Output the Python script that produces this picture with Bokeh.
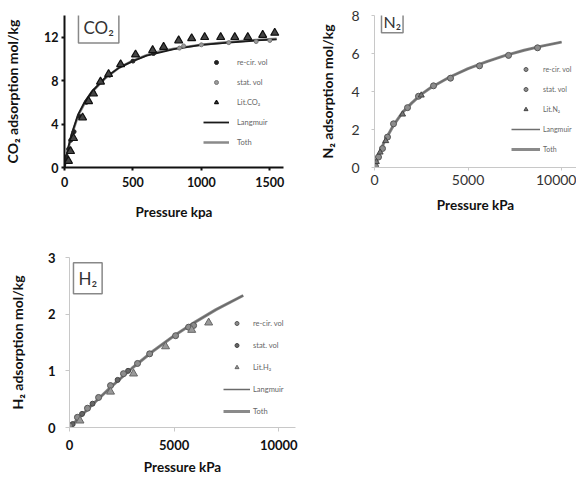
from bokeh.plotting import figure
from bokeh.models import Legend, LegendItem, Label, FixedTicker, Range1d
from bokeh.layouts import column, row
from bokeh.embed import file_html
from bokeh.resources import INLINE

FONT = "Lato"

# ---------------- CO2 data ----------------
co2_fit_p = [0, 25, 50, 100, 150, 200, 300, 400, 500, 600, 700, 800, 1000, 1200, 1400, 1550]
co2_langmuir = [0, 1.7, 3.0, 4.9, 6.1, 7.0, 8.3, 9.2, 9.8, 10.3, 10.6, 10.9, 11.3, 11.5, 11.7, 11.8]
co2_toth = [0, 1.6, 2.9, 4.8, 6.0, 6.95, 8.25, 9.2, 9.85, 10.35, 10.7, 10.95, 11.3, 11.55, 11.75, 11.85]
co2_recir_p = [15, 30, 45, 70, 110, 160, 210, 270, 330, 500, 650]
co2_recir_q = [1.0, 1.7, 2.5, 3.3, 4.7, 6.0, 6.9, 7.9, 8.5, 9.8, 10.5]
co2_stat_p = [840, 870, 1000, 1200, 1400, 1500]
co2_stat_q = [11.0, 11.2, 11.3, 11.5, 11.6, 11.7]
co2_lit_p = [29, 44, 66, 132, 176, 212, 263, 322, 410, 519, 644, 724, 834, 929, 1024, 1141, 1244, 1339, 1448, 1536]
co2_lit_q = [0.6, 1.5, 2.7, 4.6, 6.1, 6.8, 7.9, 8.6, 9.5, 10.4, 10.8, 11.1, 11.7, 11.9, 12.0, 12.0, 12.0, 12.0, 12.2, 12.4]

# ---------------- N2 data ----------------
n2_fit_p = [0, 250, 500, 1000, 1500, 2000, 2500, 3000, 4000, 5000, 6000, 7000, 8000, 9000, 10000]
n2_langmuir = [0, 0.7, 1.3, 2.2, 2.9, 3.4, 3.85, 4.2, 4.75, 5.2, 5.57, 5.9, 6.17, 6.4, 6.6]
n2_toth = [0, 0.7, 1.3, 2.2, 2.9, 3.4, 3.85, 4.2, 4.75, 5.2, 5.57, 5.9, 6.17, 6.4, 6.6]
n2_recir_p = [4064, 5615, 7166, 8717]
n2_recir_q = [4.7, 5.35, 5.9, 6.3]
n2_stat_p = [53, 214, 428, 695, 1016, 1765, 2353, 3155]
n2_stat_q = [0.05, 0.55, 1.0, 1.6, 2.3, 3.15, 3.75, 4.3]
n2_lit_p = [100, 300, 600, 1500, 2500]
n2_lit_q = [0.3, 0.8, 1.4, 2.8, 3.8]

# ---------------- H2 data ----------------
h2_fit_p = [0, 1000, 2000, 3000, 4000, 5000, 6000, 7000, 8300]
h2_langmuir = [0, 0.37, 0.72, 1.05, 1.35, 1.62, 1.86, 2.08, 2.33]
h2_toth = [0, 0.37, 0.72, 1.05, 1.35, 1.62, 1.86, 2.08, 2.33]
h2_recir_p = [0, 380, 860, 1390, 1960, 2580, 3250, 3830, 5070, 5690, 5930]
h2_recir_q = [0.03, 0.18, 0.34, 0.53, 0.74, 0.95, 1.13, 1.3, 1.62, 1.77, 1.8]
h2_stat_p = [150, 600, 1100, 2300, 2800]
h2_stat_q = [0.06, 0.24, 0.42, 0.84, 1.0]
h2_lit_p = [500, 1960, 3060, 4590, 5840, 6650]
h2_lit_q = [0.12, 0.63, 0.95, 1.43, 1.72, 1.85]


def make_fig(width, height, xr, yr, bl, bt, br, bb):
    p = figure(width=width, height=height, x_range=Range1d(*xr), y_range=Range1d(*yr),
               output_backend="svg", toolbar_location=None,
               min_border_left=bl, min_border_top=bt, min_border_right=br, min_border_bottom=bb)
    p.xgrid.visible = False
    p.ygrid.visible = False
    p.outline_line_color = None
    p.background_fill_color = "white"
    for ax in (p.xaxis[0], p.yaxis[0]):
        ax.minor_tick_line_color = None
        ax.major_label_text_font = FONT
        ax.axis_label_text_font = FONT
        ax.axis_label_text_font_style = "bold"
        ax.major_tick_in = 0
    return p


def style_axes(p, color, width, label_color, label_bold, label_size, tick_out,
               xstand, ystand, xlabstand, ylabstand, xtitle_size, ytitle_size):
    for ax in (p.xaxis[0], p.yaxis[0]):
        ax.axis_line_color = color
        ax.axis_line_width = width
        ax.major_tick_line_color = color
        ax.major_tick_line_width = width
        ax.major_tick_out = tick_out
        ax.major_label_text_color = label_color
        ax.major_label_text_font_style = "bold" if label_bold else "normal"
        ax.major_label_text_font_size = label_size
        ax.axis_label_text_color = "#111111"
    p.xaxis[0].axis_label_text_font_size = xtitle_size
    p.yaxis[0].axis_label_text_font_size = ytitle_size
    p.xaxis[0].major_label_standoff = xstand
    p.yaxis[0].major_label_standoff = ystand
    p.xaxis[0].axis_label_standoff = xlabstand
    p.yaxis[0].axis_label_standoff = ylabstand


def add_legend(p, items, x, y, glyph_w, standoff, spacing, size):
    leg = Legend(items=items, location=(x, y), padding=0, margin=0,
                 border_line_alpha=0, background_fill_alpha=0,
                 glyph_width=glyph_w, glyph_height=10, label_height=10,
                 label_standoff=standoff, spacing=spacing,
                 label_text_font=FONT, label_text_font_size=size,
                 label_text_color="#666666")
    p.add_layout(leg, "center")


def add_box(p, text, x, y, size, pad):
    lab = Label(x=x, y=y, text=text, text_font=FONT, text_font_size=size,
                text_color="#333333", border_line_color="#888888", border_line_width=1.5,
                background_fill_color="white", padding=pad)
    p.add_layout(lab)


# ---------------- CO2 panel ----------------
p1 = make_fig(290, 240, (0, 1600), (0, 14), 64, 10, 7, 73)
style_axes(p1, "#111111", 2, "#111111", True, "12.5px", 3, 6, 3, 14, 20, "13.5px", "14px")
p1.xaxis[0].ticker = FixedTicker(ticks=[0, 500, 1000, 1500])
p1.yaxis[0].ticker = FixedTicker(ticks=[0, 4, 8, 12])
p1.xaxis[0].axis_label = "Pressure kpa"
p1.yaxis[0].axis_label = "CO₂ adsorption mol/kg"
r_toth1 = p1.line(co2_fit_p, co2_toth, line_color="#8a8a8a", line_width=2.5)
r_lang1 = p1.line(co2_fit_p, co2_langmuir, line_color="#1a1a1a", line_width=1.8)
r_stat1 = p1.scatter(co2_stat_p, co2_stat_q, marker="circle", size=4, fill_color="#9a9a9a", line_color="#777777")
r_recir1 = p1.scatter(co2_recir_p, co2_recir_q, marker="circle", size=4, fill_color="#222222", line_color="#222222")
r_lit1 = p1.scatter(co2_lit_p, co2_lit_q, marker="triangle", size=8, fill_color="#444444", line_color="#111111", line_width=1.2)
add_legend(p1, [LegendItem(label="re-cir. vol", renderers=[r_recir1]),
                LegendItem(label="stat. vol", renderers=[r_stat1]),
                LegendItem(label="Lit.CO₂", renderers=[r_lit1]),
                LegendItem(label="Langmuir", renderers=[r_lang1]),
                LegendItem(label="Toth", renderers=[r_toth1])], 139, 20, 26, 8, 10, "7.5px")
add_box(p1, "CO₂", 102, 11.47, "17px", 5)

# ---------------- N2 panel ----------------
p2 = make_fig(286, 240, (0, 10800), (0, 8), 84, 15, 0, 67)
style_axes(p2, "#c8c8c8", 1, "#333333", False, "14px", 3, 4, 12, 9, 12, "13.5px", "14px")
p2.xaxis[0].ticker = FixedTicker(ticks=[0, 5000, 10000])
p2.yaxis[0].ticker = FixedTicker(ticks=[0, 2, 4, 6, 8])
p2.xaxis[0].axis_label = "Pressure kPa"
p2.yaxis[0].axis_label = "N₂ adsorption mol/kg"
r_toth2 = p2.line(n2_fit_p, n2_toth, line_color="#8a8a8a", line_width=3)
r_lang2 = p2.line(n2_fit_p, n2_langmuir, line_color="#6e6e6e", line_width=1.5)
r_stat2 = p2.scatter(n2_stat_p, n2_stat_q, marker="circle", size=6, fill_color="#8c8c8c", line_color="#555555")
r_recir2 = p2.scatter(n2_recir_p, n2_recir_q, marker="circle", size=6, fill_color="#8c8c8c", line_color="#555555")
r_lit2 = p2.scatter(n2_lit_p, n2_lit_q, marker="triangle", size=6, fill_color="#777777", line_color="#444444")
add_legend(p2, [LegendItem(label="re-cir. vol", renderers=[r_recir2]),
                LegendItem(label="stat. vol", renderers=[r_stat2]),
                LegendItem(label="Lit.N₂", renderers=[r_lit2]),
                LegendItem(label="Langmuir", renderers=[r_lang2]),
                LegendItem(label="Toth", renderers=[r_toth2])], 137, 13, 29, 3, 10, "7px")
add_box(p2, "N₂", 374, 7.09, "16px", 2)

# ---------------- H2 panel ----------------
p3 = make_fig(305, 238, (0, 10800), (0, 3), 69, 17, 10, 51)
style_axes(p3, "#c8c8c8", 1, "#111111", True, "13px", 4, 8, 10, 6, 19, "13.5px", "14px")
p3.xaxis[0].ticker = FixedTicker(ticks=[0, 5000, 10000])
p3.yaxis[0].ticker = FixedTicker(ticks=[0, 1, 2, 3])
p3.xaxis[0].axis_label = "Pressure kPa"
p3.yaxis[0].axis_label = "H₂ adsorption mol/kg"
r_toth3 = p3.line(h2_fit_p, h2_toth, line_color="#8a8a8a", line_width=3)
r_lang3 = p3.line(h2_fit_p, h2_langmuir, line_color="#6a6a6a", line_width=1.5)
r_stat3 = p3.scatter(h2_stat_p, h2_stat_q, marker="circle", size=5, fill_color="#666666", line_color="#444444")
r_recir3 = p3.scatter(h2_recir_p, h2_recir_q, marker="circle", size=6, fill_color="#8c8c8c", line_color="#555555")
r_lit3 = p3.scatter(h2_lit_p, h2_lit_q, marker="triangle", size=8, fill_color="#999999", line_color="#666666")
add_legend(p3, [LegendItem(label="re-cir. vol", renderers=[r_recir3]),
                LegendItem(label="stat. vol", renderers=[r_stat3]),
                LegendItem(label="Lit.H₂", renderers=[r_lit3]),
                LegendItem(label="Langmuir", renderers=[r_lang3]),
                LegendItem(label="Toth", renderers=[r_toth3])], 154, 11, 27, 3, 12, "7.5px")
add_box(p3, "H₂", 190, 2.36, "17px", 5)

layout = column(row(p1, p2), p3)
open("out.html", "w").write(file_html(layout, INLINE))
